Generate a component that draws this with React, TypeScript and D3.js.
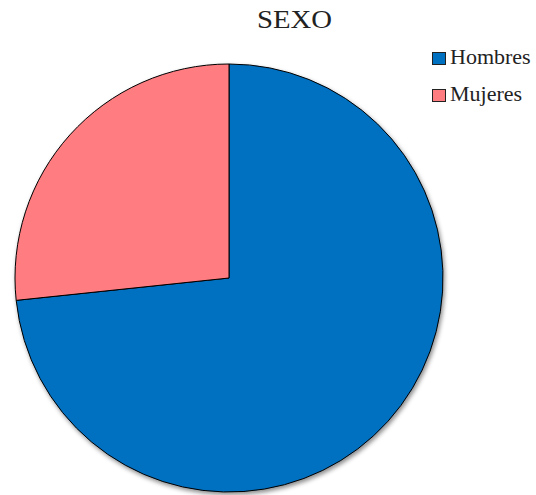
import React from "react";
import * as d3 from "d3";

const categories = ["Hombres", "Mujeres"];
const values = [22, 8];
const colors = ["#0070C0", "#FF7C80"];
const title = "SEXO";

export default function App() {
  const width = 536;
  const height = 495;
  const cx = 229;
  const cy = 278;
  const r = 214;
  const pie = d3
    .pie<number>()
    .sort(null)
    .value((d) => d)
    .startAngle(0)
    .endAngle(2 * Math.PI);
  const arcs = pie(values);
  const arc = d3.arc<d3.PieArcDatum<number>>().innerRadius(0).outerRadius(r);
  return (
    <svg
      width={width}
      height={height}
      style={{ position: "absolute", left: 0, top: 0, fontFamily: "'Liberation Serif', 'Times New Roman', serif" }}
    >
      <defs>
        <filter id="sh" x="-20%" y="-20%" width="140%" height="140%">
          <feDropShadow dx="1.5" dy="2.5" stdDeviation="2" floodColor="#000" floodOpacity="0.45" />
        </filter>
      </defs>
      <rect width={width} height={height} fill="#fff" />
      <text x={257} y={28} fontSize={25} fill="#222" textLength={75} lengthAdjust="spacingAndGlyphs">
        {title}
      </text>
      <g transform={`translate(${cx},${cy})`} filter="url(#sh)">
        {arcs.map((a, i) => (
          <path key={i} d={arc(a) || ""} fill={colors[i]} stroke="#000" strokeWidth={1} />
        ))}
      </g>
      {categories.map((c, i) => (
        <g key={c} transform={`translate(432,${52 + i * 37})`}>
          <rect x={0.5} y={0.5} width={13} height={12} fill={colors[i]} stroke="#222" strokeWidth={1} />
          <text x={18} y={12} fontSize={22} fill="#222">
            {c}
          </text>
        </g>
      ))}
    </svg>
  );
}
